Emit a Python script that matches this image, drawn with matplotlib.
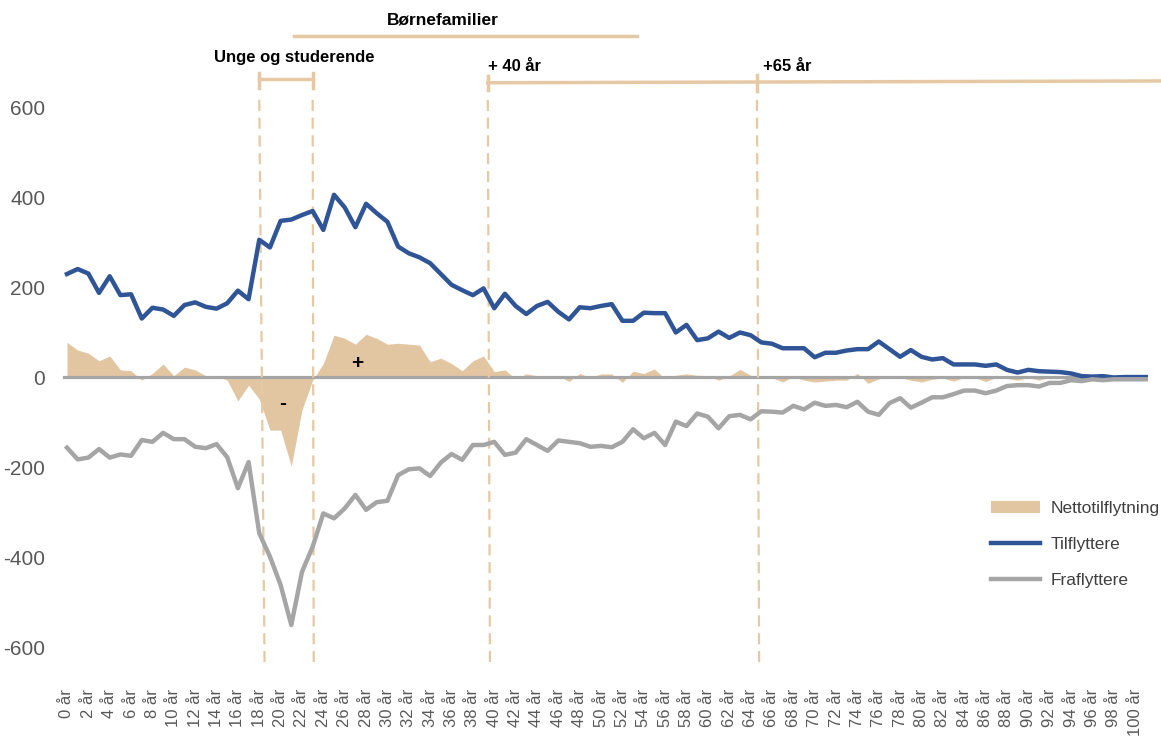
import matplotlib
matplotlib.use("Agg")
import matplotlib.pyplot as plt
from matplotlib.patches import Patch
from matplotlib.lines import Line2D

plt.rcParams["font.family"] = ["Liberation Sans", "DejaVu Sans"]

ages = list(range(0, 102))
age_labels = [f"{a} år" if a % 2 == 0 else "" for a in ages]

tilflyttere = [
    230, 241, 231, 188, 225, 183, 185, 131, 155, 151,
    137, 161, 167, 157, 153, 165, 193, 174, 306, 289,
    348, 351, 361, 370, 328, 406, 378, 334, 386, 365,
    346, 291, 276, 267, 254, 230, 206, 194, 183, 198,
    154, 186, 159, 141, 159, 168, 146, 129, 156, 154,
    159, 163, 126, 126, 144, 143, 143, 100, 117, 83,
    87, 102, 88, 100, 94, 78, 75, 65, 65, 65,
    45, 55, 55, 60, 63, 63, 80, 63, 46, 61,
    46, 40, 43, 29, 29, 29, 26, 29, 17, 11,
    17, 14, 13, 12, 9, 3, 2, 3, 0, 1,
    1, 1,
]

fraflyttere = [
    -156, -182, -178, -159, -178, -171, -174, -139, -143, -123,
    -137, -137, -154, -157, -148, -177, -246, -188, -346, -398,
    -461, -550, -432, -376, -302, -313, -291, -261, -294, -277,
    -274, -217, -204, -202, -219, -189, -170, -183, -150, -150,
    -143, -172, -167, -137, -150, -163, -140, -143, -146, -154,
    -152, -155, -143, -115, -135, -123, -150, -98, -108, -80,
    -87, -113, -86, -83, -93, -75, -76, -78, -63, -71,
    -56, -63, -61, -66, -54, -76, -83, -57, -46, -67,
    -56, -44, -44, -37, -29, -29, -35, -29, -19, -17,
    -17, -20, -12, -12, -6, -8, -4, -6, -4, -4,
    -4, -4,
]

nettotilflytning = [
    78, 61, 54, 37, 48, 17, 15, -6, 9, 30,
    4, 23, 17, 4, 3, -6, -52, -17, -48, -117,
    -117, -197, -72, -6, 31, 94, 87, 74, 96, 87,
    74, 76, 74, 72, 35, 43, 31, 15, 37, 48,
    13, 17, -3, 8, 4, 4, 4, -9, 9, 0,
    8, 8, -11, 14, 9, 19, -3, 5, 8, 5,
    4, -6, 3, 18, 5, 0, 0, -10, 2, -6,
    -10, -8, -6, -6, 9, -13, -3, 3, 0, -6,
    -10, -4, -1, -8, 0, 0, -9, 0, -2, -6,
    0, -6, 1, 0, 3, -5, -2, -3, -4, -3,
    -3, -3,
]

y_ticks = [-600, -400, -200, 0, 200, 400, 600]

BLUE = "#2F5597"
GREY = "#A5A5A5"
TAN = "#E2C6A2"
TAN_LINE = "#E6C9A4"
TICK = "#595959"

fig = plt.figure(figsize=(11.61, 7.37), dpi=100)
ax = fig.add_axes([0.0485, 0.0787, 0.9476, 0.8365])

ax.fill_between(ages, nettotilflytning, 0, color=TAN, linewidth=0, zorder=1)
ax.axhline(0, xmin=0.007, xmax=0.99, color=GREY, lw=2.3, zorder=2)
ax.plot(ages, tilflyttere, color=BLUE, lw=3.2, zorder=4, solid_joinstyle="round")
ax.plot(ages, fraflyttere, color=GREY, lw=3.2, zorder=4, solid_joinstyle="round")

ax.set_xlim(-1, 102)
ax.set_ylim(-670, 700)
ax.set_xticks(ages)
ax.set_xticklabels(age_labels, rotation=90, fontsize=12, color=TICK)
ax.set_yticks(y_ticks)
ax.set_yticklabels([str(v) for v in y_ticks], fontsize=15, color=TICK)
ax.tick_params(length=0)
ax.tick_params(axis="x", pad=7)
ax.tick_params(axis="y", pad=8)
for s in ax.spines.values():
    s.set_visible(False)

# dashed age group separators
for x0, x1 in [(18.0, 18.5), (23.0, 23.1), (39.4, 39.6), (64.6, 64.8)]:
    ax.plot([x0, x1], [617, -639], color=TAN_LINE, lw=1.6, dashes=(5, 3),
            clip_on=False, zorder=3)

# brackets on top
ax.plot([21.3, 53.4], [759, 759], color=TAN_LINE, lw=2.5, clip_on=False)
ax.text(35.2, 794, "Børnefamilier", ha="center", va="center",
        fontsize=12.5, fontweight="bold")

ax.plot([18.0, 23.0], [663, 663], color=TAN_LINE, lw=2.5, clip_on=False)
for xc in (18.0, 23.0):
    ax.plot([xc, xc], [677, 643], color=TAN_LINE, lw=2.5, clip_on=False)
ax.text(21.25, 712, "Unge og studerende", ha="center", va="center",
        fontsize=12, fontweight="bold")

ax.plot([39.4, 102.4], [655, 659], color=TAN_LINE, lw=2.5, clip_on=False)
ax.plot([39.4, 39.4], [670, 639], color=TAN_LINE, lw=2.5, clip_on=False)
ax.plot([64.6, 64.6], [672, 637], color=TAN_LINE, lw=2.5, clip_on=False)
ax.text(39.4, 691, "+ 40 år", ha="left", va="center", fontsize=12, fontweight="bold")
ax.text(65.2, 691, "+65 år", ha="left", va="center", fontsize=12, fontweight="bold")

ax.text(27.2, 32, "+", ha="center", va="center", fontsize=15, fontweight="bold")
ax.text(20.2, -57, "-", ha="center", va="center", fontsize=15, fontweight="bold")

handles = [
    Patch(facecolor=TAN, edgecolor="none", label="Nettotilflytning"),
    Line2D([0], [0], color=BLUE, lw=3.2, label="Tilflyttere"),
    Line2D([0], [0], color=GREY, lw=3.2, label="Fraflyttere"),
]
leg = ax.legend(handles=handles, loc="upper left", bbox_to_anchor=(0.848, 0.33),
                bbox_transform=fig.transFigure, frameon=False, fontsize=12.5,
                handlelength=2.8, handletextpad=0.6, labelspacing=1.2,
                borderaxespad=0)
for t in leg.get_texts():
    t.set_color("#404040")

fig.savefig("out.png", dpi=100)
